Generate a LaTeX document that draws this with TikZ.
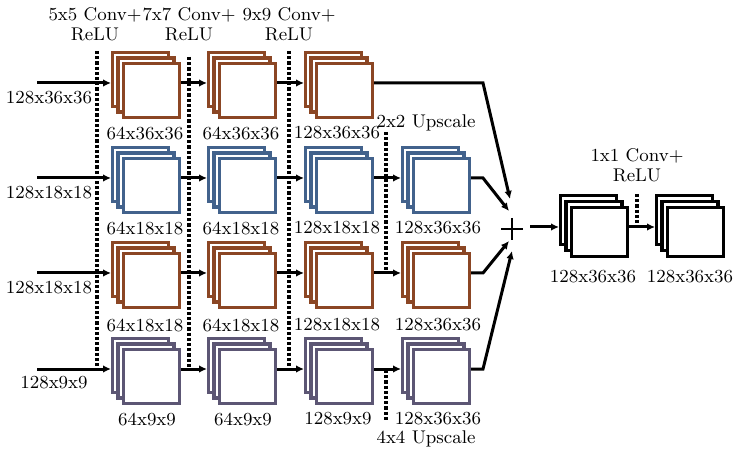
\documentclass[tikz,border=0pt]{standalone}
\usetikzlibrary{arrows.meta,calc}
\definecolor{cbrown}{RGB}{139,70,36}
\definecolor{cblue}{RGB}{66,98,140}
\definecolor{cpurple}{RGB}{92,86,116}
\newcommand\stk[7]{% name, X, Y, arrow y, colour, outer height, y offset
  \node[stackbox] (#1) at (#2+35,#4) {};
  \foreach \k in {0,1,2}{
    \draw[sqbox,draw=#5] (#2+5.5*\k+1.5,#3+#7*\k+1.5) rectangle (#2+5.5*\k+57.5,#3+#7*\k+#6-1.5);
  }
}
\begin{document}
\begin{tikzpicture}[x=0.5pt,y=-0.5pt,
  every node/.style={font=\fontsize{9.2}{10}\selectfont, inner sep=0pt, outer sep=0pt},
  stackbox/.style={minimum width=35pt, minimum height=30pt},
  sqbox/.style={line width=1.6pt, fill=white},
  conn/.style={line width=1.5pt, -{Latex[length=4pt,width=3.8pt]}},
  dots/.style={line width=2.2pt, dash pattern=on 1.6pt off 1pt}]
\useasboundingbox (0,0) rectangle (739,454);

% stacks
\stk{a1}{111}{51}{83}{cbrown}{57}{5.5}
\stk{a2}{207}{51}{83}{cbrown}{57}{5.5}
\stk{a3}{304}{51}{83}{cbrown}{57}{5.5}
\stk{b1}{111}{146}{178}{cblue}{57}{5.5}
\stk{b2}{207}{146}{178}{cblue}{57}{5.5}
\stk{b3}{304}{146}{178}{cblue}{57}{5.5}
\stk{b4}{401}{146}{178}{cblue}{57}{5.5}
\stk{c1}{111}{241}{273}{cbrown}{57}{5.5}
\stk{c2}{207}{241}{273}{cbrown}{57}{5.5}
\stk{c3}{304}{241}{273}{cbrown}{57}{5.5}
\stk{c4}{401}{241}{273}{cbrown}{57}{5.5}
\stk{d1}{111}{337}{369}{cpurple}{57}{5.5}
\stk{d2}{207}{337}{369}{cpurple}{57}{5.5}
\stk{d3}{304}{337}{369}{cpurple}{57}{5.5}
\stk{d4}{401}{337}{369}{cpurple}{57}{5.5}
\stk{f1}{559}{194}{227}{black}{52}{6}
\stk{f2}{655}{194}{227}{black}{52}{6}

% input arrows
\coordinate (ia) at (37,83);
\coordinate (ib) at (37,178);
\coordinate (ic) at (37,273);
\coordinate (id) at (37,369);
\draw[conn] (ia) -- (a1.west);
\draw[conn] (ib) -- (b1.west);
\draw[conn] (ic) -- (c1.west);
\draw[conn] (id) -- (d1.west);

% row arrows
\draw[conn] (a1.east) -- (a2.west);
\draw[conn] (a2.east) -- (a3.west);
\draw[conn] (b1.east) -- (b2.west);
\draw[conn] (b2.east) -- (b3.west);
\draw[conn] (b3.east) -- (b4.west);
\draw[conn] (c1.east) -- (c2.west);
\draw[conn] (c2.east) -- (c3.west);
\draw[conn] (c3.east) -- (c4.west);
\draw[conn] (d1.east) -- (d2.west);
\draw[conn] (d2.east) -- (d3.west);
\draw[conn] (d3.east) -- (d4.west);

% plus
\node[minimum size=11pt] (plus) at (512,229) {};
\draw[line width=0.6pt] (plus.north) -- (plus.south) (plus.west) -- (plus.east);
\coordinate (ka) at (483,83);
\coordinate (kb) at (483,178);
\coordinate (kc) at (483,273);
\coordinate (kd) at (483,369);
\coordinate (ta) at (510,199);
\coordinate (tb) at (509,211);
\coordinate (tc) at (509,241);
\coordinate (td) at (512,251);
\draw[conn] (a3.east) -- (ka) -- (ta);
\draw[conn] (b4.east) -- (kb) -- (tb);
\draw[conn] (c4.east) -- (kc) -- (tc);
\draw[conn] (d4.east) -- (kd) -- (td);
\coordinate (po) at (530,227);
\draw[conn] (po) -- (f1.west);
\draw[conn] (f1.east) -- (f2.west);

% labels
\node[align=center] (l1) at (95,24) {5x5 Conv+\\ReLU};
\node[align=center] (l2) at (189,24) {7x7 Conv+\\ReLU};
\node[align=center] (l3) at (289,24) {9x9 Conv+\\ReLU};
\node[align=center] (l4) at (637,165) {1x1 Conv+\\ReLU};
\node (i1) at (49,98) {128x36x36};
\node (i2) at (49,193) {128x18x18};
\node (i3) at (49,288) {128x18x18};
\node (i4) at (54,383) {128x9x9};

\node (la1) at (145,133) {64x36x36};
\node (la2) at (241,133) {64x36x36};
\node (la3) at (337,133) {128x36x36};
\node (lb1) at (145,228) {64x18x18};
\node (lb2) at (241,228) {64x18x18};
\node (lb3) at (337,228) {128x18x18};
\node (lb4) at (438,228) {128x36x36};
\node (lc1) at (145,325) {64x18x18};
\node (lc2) at (241,325) {64x18x18};
\node (lc3) at (337,325) {128x18x18};
\node (lc4) at (438,325) {128x36x36};
\node (ld1) at (147,419) {64x9x9};
\node (ld2) at (243,419) {64x9x9};
\node (ld3) at (338,419) {128x9x9};
\node (ld4) at (438,419) {128x36x36};
\node (up2) at (426,123) {2x2 Upscale};
\node (up4) at (426,439) {4x4 Upscale};
\node (lf1) at (593,277) {128x36x36};
\node (lf2) at (690,277) {128x36x36};

% dotted separators
\coordinate (d1t) at (97,51);   \coordinate (d1b) at (97,370);
\coordinate (d2t) at (189,57);  \coordinate (d2b) at (189,367);
\coordinate (d3t) at (289,51);  \coordinate (d3b) at (289,370);
\coordinate (d4t) at (386,132); \coordinate (d4b) at (386,272);
\coordinate (d5t) at (386,370); \coordinate (d5b) at (386,420);
\coordinate (d6t) at (637,194); \coordinate (d6b) at (637,227);
\draw[dots] (d1t) -- (d1b);
\draw[dots] (d2t) -- (d2b);
\draw[dots] (d3t) -- (d3b);
\draw[dots] (d4t) -- (d4b);
\draw[dots] (d5t) -- (d5b);
\draw[dots] (d6t) -- (d6b);
\end{tikzpicture}
\end{document}
